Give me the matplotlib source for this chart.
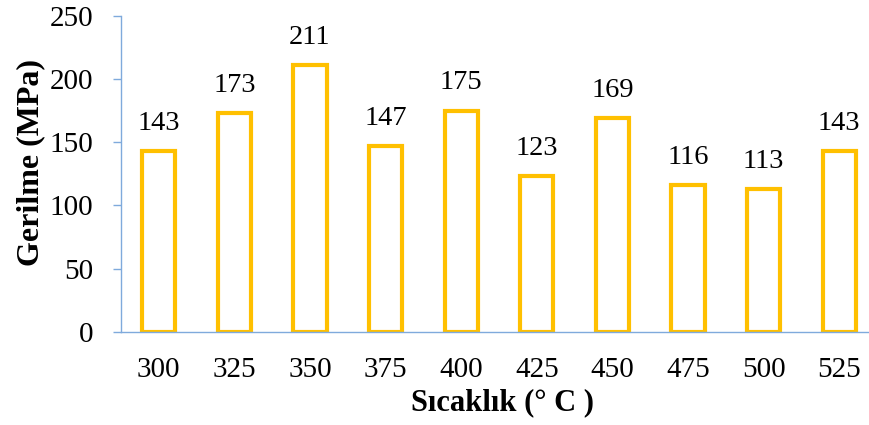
import matplotlib
matplotlib.use("Agg")
import matplotlib.pyplot as plt

plt.rcParams['font.family'] = ['Liberation Serif', 'DejaVu Serif']

temperatures = ["300", "325", "350", "375", "400", "425", "450", "475", "500", "525"]
stress = [143, 173, 211, 147, 175, 123, 169, 116, 113, 143]

axis_color = "#7FAADC"
bar_color = "#FFC000"

fig = plt.figure(figsize=(8.69, 4.25), dpi=100)
ax = fig.add_axes([121 / 869, 93 / 425, 756 / 869, 316.3 / 425])

x = list(range(len(temperatures)))
bars = ax.bar(x, stress, width=0.44, facecolor="white", edgecolor=bar_color,
              linewidth=3.0)

for xi, v in zip(x, stress):
    ax.annotate(str(v), (xi, v), xytext=(0, 11), textcoords="offset points",
                ha="center", va="bottom", fontsize=20.5)

ax.set_xlim(-0.5, 9.5)
ax.set_ylim(0, 250)
ax.set_yticks([0, 50, 100, 150, 200, 250])
ax.set_xticks(x)
ax.set_xticklabels(temperatures)

for side in ("top", "right"):
    ax.spines[side].set_visible(False)
for side in ("left", "bottom"):
    ax.spines[side].set_color(axis_color)
    ax.spines[side].set_linewidth(1.0)

ax.tick_params(axis="x", length=0, pad=18, labelsize=21)
ax.tick_params(axis="y", length=6, width=1.0, color=axis_color, pad=14, labelsize=21)

ax.set_xlabel("Sıcaklık (° C )", fontsize=22, fontweight="bold")
ax.set_ylabel("Gerilme (MPa)", fontsize=23, fontweight="bold")
ax.xaxis.set_label_coords(0.5046, -0.178)
ax.yaxis.set_label_coords(-0.100, 0.537)

fig.savefig("out.png", dpi=100)
